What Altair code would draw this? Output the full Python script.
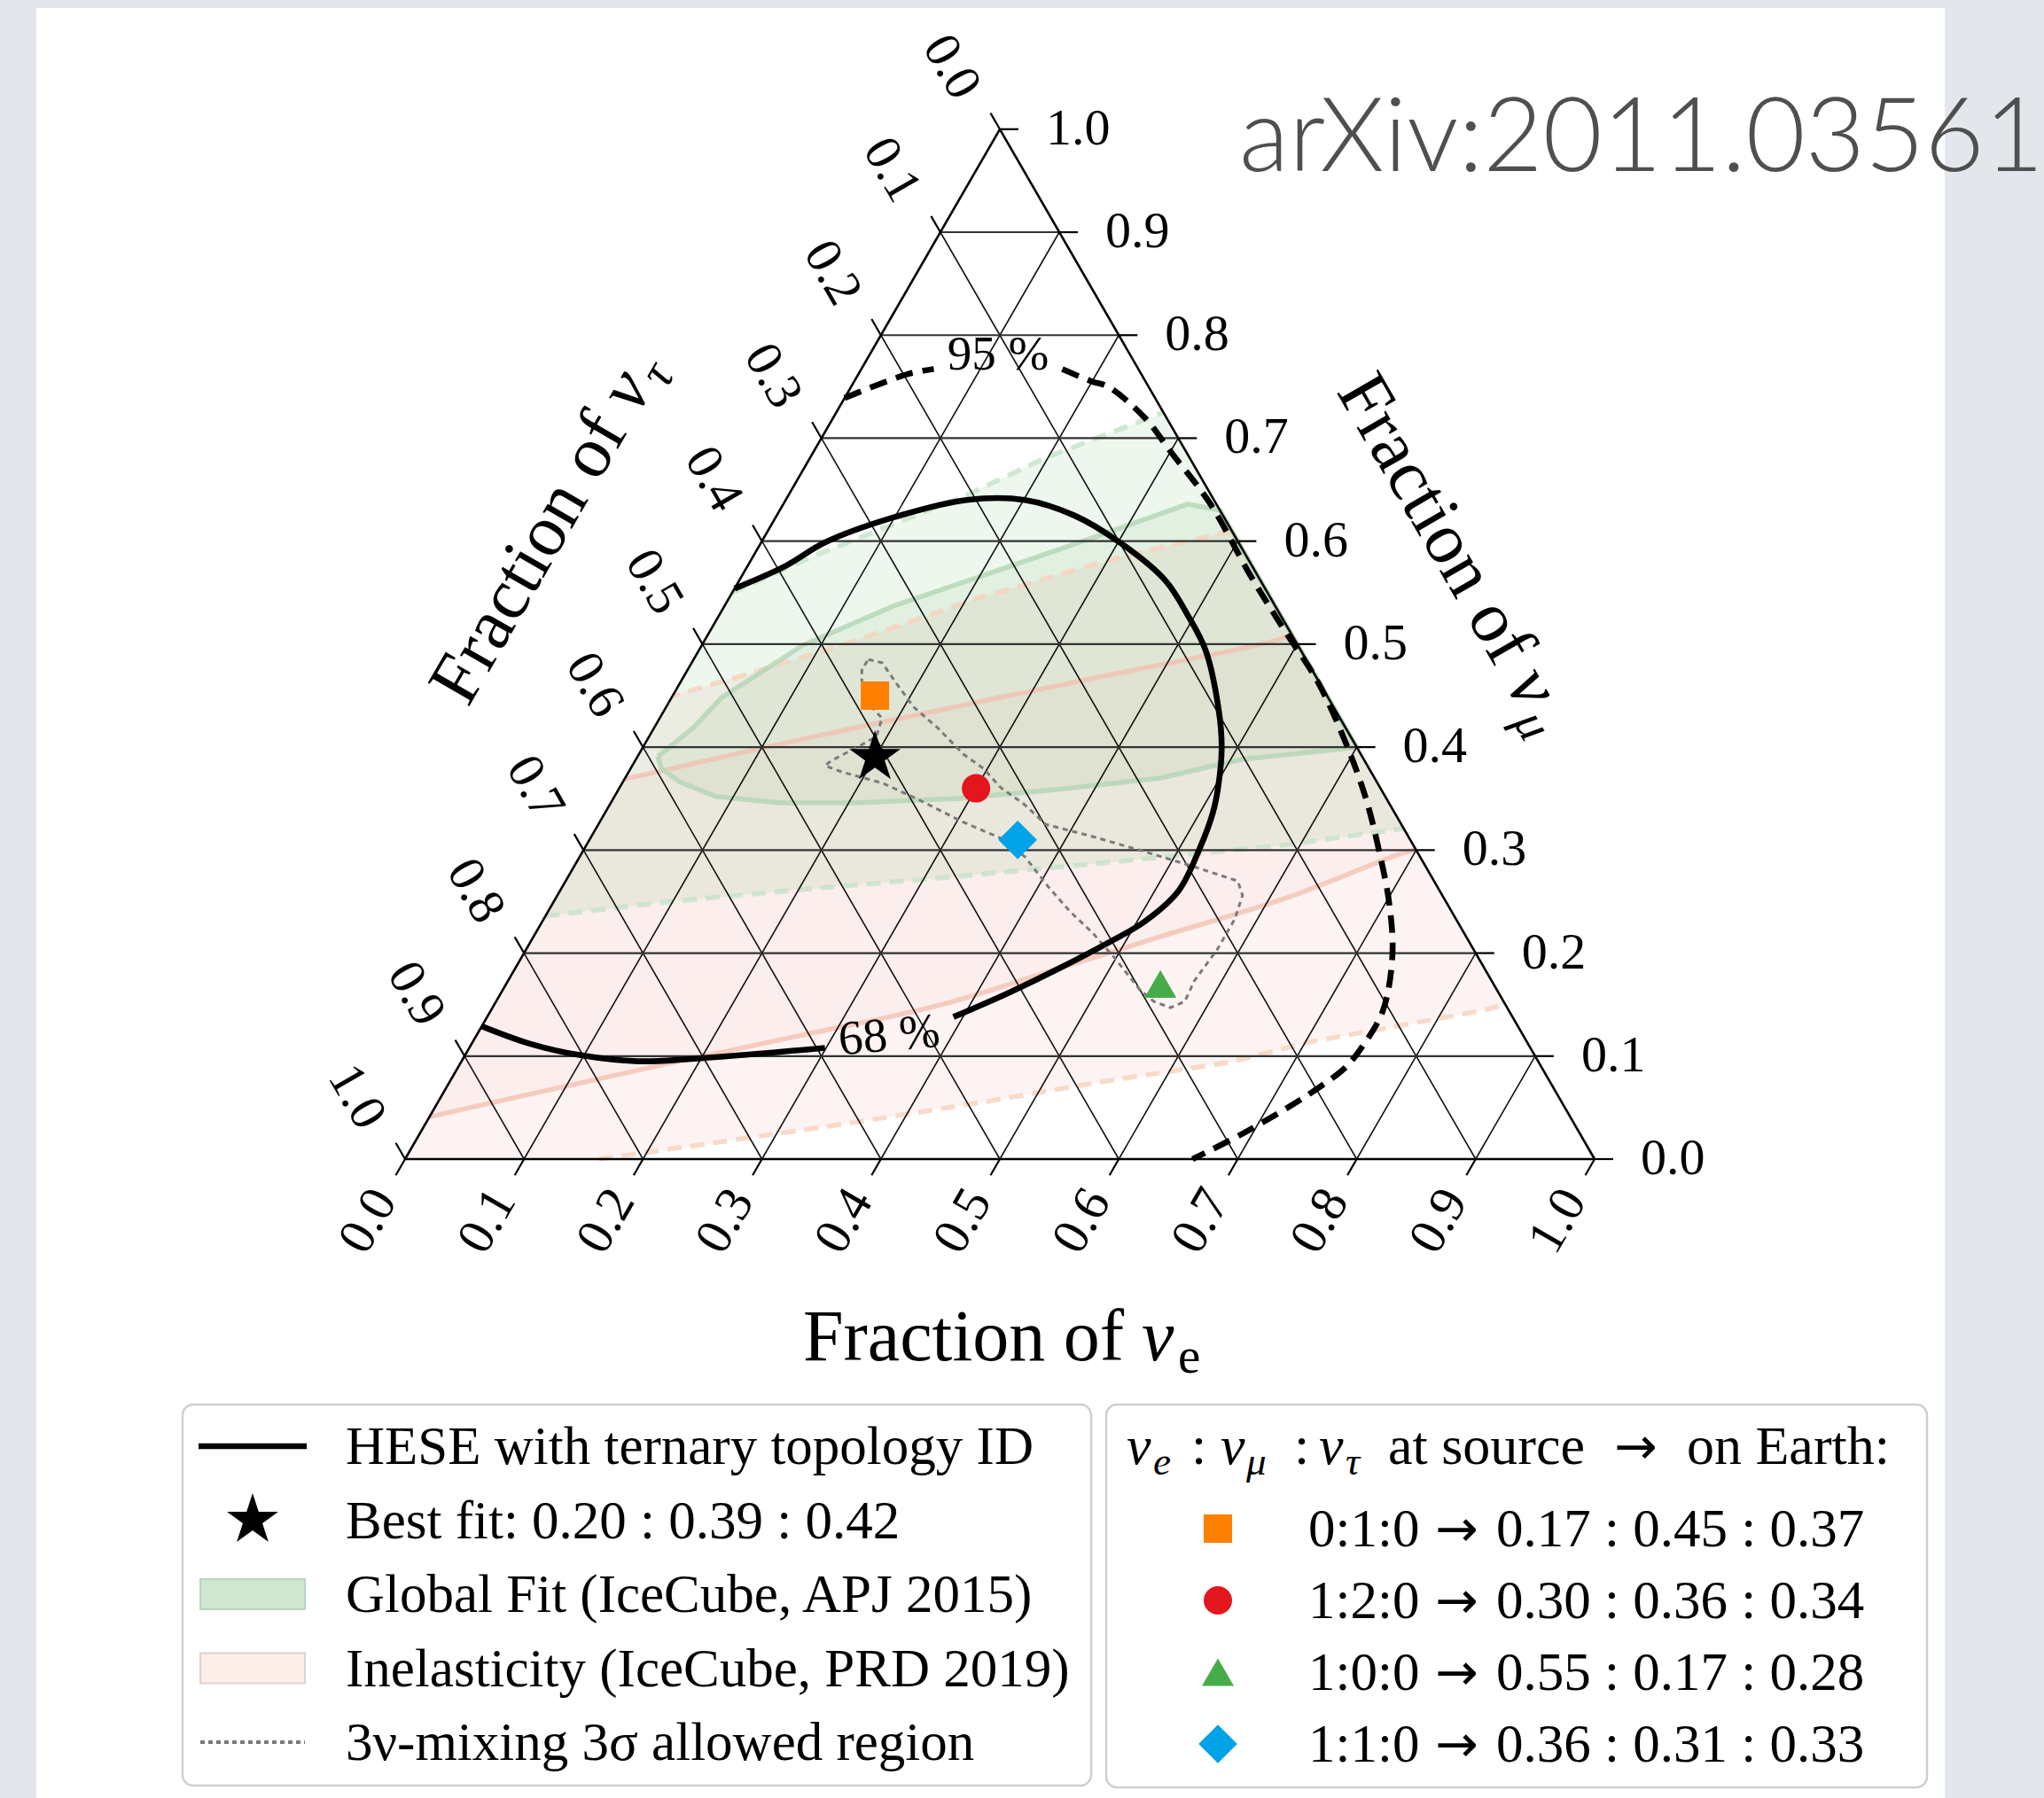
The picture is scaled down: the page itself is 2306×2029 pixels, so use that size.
import altair as alt
import numpy as np
import pandas as pd

# ---------------- values ----------------
# every curve is given as (nu_e fraction, nu_mu fraction); nu_tau = 1 - e - mu
tick_values = [0.0, 0.1, 0.2, 0.3, 0.4, 0.5, 0.6, 0.7, 0.8, 0.9, 1.0]
tick_labels = ["0.0", "0.1", "0.2", "0.3", "0.4", "0.5", "0.6", "0.7", "0.8", "0.9", "1.0"]

best_fit = [0.20, 0.39, 0.42]

src_labels = ["0:1:0", "1:2:0", "1:0:0", "1:1:0"]
earth_e = [0.17, 0.30, 0.55, 0.36]
earth_mu = [0.45, 0.36, 0.17, 0.31]
earth_tau = [0.37, 0.34, 0.28, 0.33]

# HESE 68 % contour (solid black), two pieces around the "68 %" label
hese68_a_e = [0.000, 0.032, 0.054, 0.099, 0.152, 0.201, 0.250, 0.301, 0.358, 0.394, 0.426,
              0.466, 0.487, 0.503, 0.511, 0.517, 0.520, 0.506, 0.487, 0.457, 0.426, 0.392]
hese68_a_mu = [0.554, 0.576, 0.599, 0.623, 0.640, 0.640, 0.625, 0.599, 0.562, 0.528, 0.494,
               0.436, 0.399, 0.361, 0.336, 0.303, 0.260, 0.230, 0.211, 0.185, 0.161, 0.138]
hese68_b_e = [0.299, 0.211, 0.148, 0.096, 0.049, 0.000]
hese68_b_mu = [0.108, 0.099, 0.095, 0.101, 0.112, 0.129]

# HESE 95 % contour (dashed black), two pieces around the "95 %" label
hese95_a_e = [0.000, 0.041, 0.061]
hese95_a_mu = [0.739, 0.762, 0.767]
hese95_b_e = [0.169, 0.200, 0.216, 0.263, 0.300, 0.358, 0.427, 0.483, 0.535, 0.588, 0.632,
              0.668, 0.704, 0.731, 0.750, 0.750, 0.746, 0.730, 0.717, 0.691, 0.662]
hese95_b_mu = [0.767, 0.755, 0.750, 0.719, 0.687, 0.637, 0.567, 0.513, 0.464, 0.405, 0.351,
               0.301, 0.247, 0.198, 0.144, 0.109, 0.089, 0.065, 0.050, 0.024, 0.000]

# Global fit (IceCube, APJ 2015)
gf68_e = [0.017, 0.033, 0.042, 0.085, 0.142, 0.203, 0.264, 0.340, 0.370, 0.600, 0.579,
          0.509, 0.450, 0.370, 0.289, 0.206, 0.142, 0.085, 0.048, 0.026]
gf68_mu = [0.391, 0.419, 0.448, 0.499, 0.537, 0.567, 0.597, 0.636, 0.630, 0.400, 0.397,
           0.388, 0.370, 0.359, 0.350, 0.346, 0.346, 0.352, 0.366, 0.379]
gf95_up_e = [0.000, 0.050, 0.100, 0.150, 0.198, 0.275]
gf95_up_mu = [0.550, 0.585, 0.615, 0.645, 0.681, 0.725]
gf95_lo_e = [0.000, 0.098, 0.206, 0.314, 0.447, 0.588, 0.679]
gf95_lo_mu = [0.236, 0.250, 0.262, 0.273, 0.288, 0.305, 0.321]

# Inelasticity (IceCube, PRD 2019)
in95_lo_e = [0.163, 0.253, 0.357, 0.461, 0.553, 0.646, 0.705, 0.833, 0.850]
in95_lo_mu = [0.000, 0.016, 0.035, 0.056, 0.076, 0.094, 0.114, 0.144, 0.150]
in95_up_e = [0.390, 0.310, 0.210, 0.120, 0.050, 0.000]
in95_up_mu = [0.610, 0.585, 0.545, 0.500, 0.470, 0.450]
in68_lo_e = [0.000, 0.077, 0.176, 0.276, 0.376, 0.457, 0.527, 0.613, 0.690, 0.700]
in68_lo_mu = [0.041, 0.064, 0.093, 0.121, 0.150, 0.185, 0.216, 0.253, 0.297, 0.300]
in68_up_e = [0.490, 0.481, 0.353, 0.264, 0.131, 0.000]
in68_up_mu = [0.510, 0.504, 0.469, 0.445, 0.408, 0.369]

# 3nu-mixing 3 sigma allowed region (dotted grey)
mix_e = [0.147, 0.160, 0.182, 0.208, 0.238, 0.273, 0.297, 0.320, 0.349, 0.376, 0.422, 0.471,
         0.521, 0.565, 0.576, 0.581, 0.581, 0.577, 0.579, 0.570, 0.553, 0.536, 0.498, 0.469,
         0.438, 0.409, 0.375, 0.349, 0.306, 0.255, 0.219, 0.179, 0.162, 0.165, 0.179, 0.191,
         0.187, 0.169, 0.152, 0.146]
mix_mu = [0.485, 0.482, 0.462, 0.439, 0.419, 0.393, 0.379, 0.361, 0.344, 0.325, 0.313, 0.299,
          0.284, 0.270, 0.256, 0.233, 0.204, 0.173, 0.153, 0.147, 0.153, 0.164, 0.196, 0.219,
          0.241, 0.264, 0.293, 0.310, 0.327, 0.350, 0.365, 0.376, 0.382, 0.387, 0.399, 0.410,
          0.428, 0.442, 0.464, 0.476]

label95 = ("95 %", 0.108, 0.781)
label68 = ("68 %", 0.347, 0.120)

legend_left_labels = ["HESE with ternary topology ID",
                      "Best fit: %.2f : %.2f : %.2f" % tuple(best_fit),
                      "Global Fit (IceCube, APJ 2015)",
                      "Inelasticity (IceCube, PRD 2019)",
                      "3\u03bd-mixing 3\u03c3 allowed region"]

# ---------------- styles / layout ----------------
src_colors = ["#ff8000", "#e3151d", "#46ac48", "#00a2e8"]
src_shapes = ["square", "circle", "triangle-up", "diamond"]
src_sizes = [1024, 1024, 1300, 1900]
STAR = ("M0,-1L0.2245,-0.309L0.951,-0.309L0.3633,0.118L0.588,0.809L0,0.382"
        "L-0.588,0.809L-0.3633,0.118L-0.951,-0.309L-0.2245,-0.309Z")
SERIF = "Liberation Serif"
ARROWF = "DejaVu Sans"

S = 1342.0                 # pixels per unit triangle side
OX, OY = 457.0, 1308.0     # pixel position of the bottom-left vertex
CW, CH = 2306, 2029
H3 = np.sqrt(3.0) / 2.0


def cart(e, m):
    e = np.asarray(e, dtype=float)
    m = np.asarray(m, dtype=float)
    return e + m / 2.0, m * H3


def lay(px, py):
    return (px - OX) / S, (OY - py) / S


XS = alt.Scale(domain=[lay(0, 0)[0], lay(CW, 0)[0]], nice=False, zero=False)
YS = alt.Scale(domain=[lay(0, CH)[1], lay(0, 0)[1]], nice=False, zero=False)


def ex(f="X"):
    return alt.X(f"{f}:Q", scale=XS, axis=None)


def ey(f="Y"):
    return alt.Y(f"{f}:Q", scale=YS, axis=None)


def path_df(e, m, close=False):
    x, y = cart(e, m)
    x, y = list(x), list(y)
    if close:
        x.append(x[0])
        y.append(y[0])
    return pd.DataFrame({"X": x, "Y": y, "i": np.arange(len(x))})


def path_layer(df, **mk):
    return alt.Chart(df).mark_line(**mk).encode(x=ex(), y=ey(), order=alt.Order("i:Q"))


def rule_layer(rows, **mk):
    df = pd.DataFrame(rows, columns=["X", "Y", "X2", "Y2"])
    return alt.Chart(df).mark_rule(**mk).encode(
        x=ex(), y=ey(), x2=alt.X2("X2:Q"), y2=alt.Y2("Y2:Q"))


def rect_layer(rows, **mk):
    df = pd.DataFrame(rows, columns=["X", "Y", "X2", "Y2"])
    return alt.Chart(df).mark_rect(**mk).encode(
        x=ex(), y=ey(), x2=alt.X2("X2:Q"), y2=alt.Y2("Y2:Q"))


def text_layer(rows, **mk):
    df = pd.DataFrame(rows, columns=["X", "Y", "t"])
    return alt.Chart(df).mark_text(**mk).encode(x=ex(), y=ey(), text="t:N")


def point_layer(rows):
    df = pd.DataFrame(rows, columns=["X", "Y", "shape", "color", "size"])
    return alt.Chart(df).mark_point(filled=True, opacity=1, strokeWidth=0).encode(
        x=ex(), y=ey(),
        shape=alt.Shape("shape:N", scale=None),
        color=alt.Color("color:N", scale=None),
        size=alt.Size("size:Q", scale=None))


layers = []

# background panel
layers.append(rect_layer([[*lay(41, 9), *lay(2194, CH + 5)]], fill="white"))

# ---------- shaded regions ----------
in95_poly_e = [0.0] + in95_lo_e + in95_up_e + [0.0]
in95_poly_mu = [0.0] + in95_lo_mu + in95_up_mu + [0.0]
layers.append(path_layer(path_df(in95_poly_e, in95_poly_mu, True),
                         fill="#e8645a", fillOpacity=0.075, strokeOpacity=0, strokeWidth=0))
layers.append(path_layer(path_df(in68_lo_e + in68_up_e, in68_lo_mu + in68_up_mu, True),
                         fill="#e8645a", fillOpacity=0.035, strokeOpacity=0, strokeWidth=0))
gf95_poly_e = gf95_up_e + gf95_lo_e[::-1]
gf95_poly_mu = gf95_up_mu + gf95_lo_mu[::-1]
layers.append(path_layer(path_df(gf95_poly_e, gf95_poly_mu, True),
                         fill="#2ca02c", fillOpacity=0.085, strokeOpacity=0, strokeWidth=0))
layers.append(path_layer(path_df(gf68_e, gf68_mu, True),
                         fill="#4f8f3a", fillOpacity=0.065, strokeOpacity=0, strokeWidth=0))

# region boundaries
for e_, m_ in [(in95_lo_e, in95_lo_mu), (in95_up_e, in95_up_mu)]:
    layers.append(path_layer(path_df(e_, m_), stroke="#f6d2bb", strokeWidth=5.5,
                             strokeDash=[16, 10], opacity=0.8))
for e_, m_ in [(in68_lo_e, in68_lo_mu), (in68_up_e, in68_up_mu)]:
    layers.append(path_layer(path_df(e_, m_), stroke="#f2bfae", strokeWidth=5.5,
                             opacity=0.75, interpolate="catmull-rom"))
for e_, m_ in [(gf95_up_e, gf95_up_mu), (gf95_lo_e, gf95_lo_mu)]:
    layers.append(path_layer(path_df(e_, m_), stroke="#c6e2c8", strokeWidth=5.5,
                             strokeDash=[16, 10], opacity=0.8))
layers.append(path_layer(path_df(gf68_e, gf68_mu, True), stroke="#b3d6b4", strokeWidth=5.5,
                         opacity=0.8))

# ---------- grid, edges, ticks ----------
inner = [v for v in tick_values if 0 < v < 1]
h_rows, d_rows = [], []
for v in inner:
    x1, y1 = cart(0.0, v)
    x2, y2 = cart(1.0 - v, v)
    h_rows.append([float(x1), float(y1), float(x2), float(y2)])
    x1, y1 = cart(v, 0.0)
    x2, y2 = cart(v, 1.0 - v)
    d_rows.append([float(x1), float(y1), float(x2), float(y2)])
    x1, y1 = cart(1.0 - v, 0.0)
    x2, y2 = cart(0.0, 1.0 - v)
    d_rows.append([float(x1), float(y1), float(x2), float(y2)])
layers.append(rule_layer(d_rows, color="#111111", strokeWidth=1.6))
layers.append(rule_layer(h_rows, color="#333333", strokeWidth=2.2))

corners = [cart(0, 0), cart(1, 0), cart(0, 1)]
edge_rows = [[float(a[0]), float(a[1]), float(b[0]), float(b[1])]
             for a, b in [(corners[0], corners[1]), (corners[1], corners[2]), (corners[2], corners[0])]]
layers.append(rule_layer(edge_rows, color="black", strokeWidth=2.6))

TL = 21.0 / S
tick_rows = []
lab_b, lab_r, lab_l = [], [], []
for v, t in zip(tick_values, tick_labels):
    bx, by = cart(v, 0.0)
    tick_rows.append([float(bx), float(by), float(bx - 0.5 * TL), float(by - H3 * TL)])
    lab_b.append([float(bx) - 41 / S, float(by) - 70 / S, t])
    rx, ry = cart(1.0 - v, v)
    tick_rows.append([float(rx), float(ry), float(rx + TL), float(ry)])
    lab_r.append([float(rx) + 52 / S, float(ry), t])
    lx, ly = cart(0.0, 1.0 - v)
    tick_rows.append([float(lx), float(ly), float(lx - 0.5 * TL), float(ly + H3 * TL)])
    lab_l.append([float(lx) - 55 / S, float(ly) + 70 / S, t])
layers.append(rule_layer(tick_rows, color="black", strokeWidth=2.2))

layers.append(text_layer(lab_b, font=SERIF, fontSize=58, angle=300, align="center",
                         baseline="middle", color="black"))
layers.append(text_layer(lab_r, font=SERIF, fontSize=58, align="left",
                         baseline="middle", color="black"))
layers.append(text_layer(lab_l, font=SERIF, fontSize=58, angle=60, align="center",
                         baseline="middle", color="black"))

# ---------- 3nu mixing region ----------
layers.append(path_layer(path_df(mix_e, mix_mu, True), stroke="#7a7a7a", strokeWidth=3,
                         strokeDash=[6, 5]))

# ---------- HESE contours ----------
for e_, m_ in [(hese68_a_e, hese68_a_mu), (hese68_b_e, hese68_b_mu)]:
    layers.append(path_layer(path_df(e_, m_), stroke="black", strokeWidth=6.6,
                             interpolate="catmull-rom"))
for e_, m_ in [(hese95_a_e, hese95_a_mu), (hese95_b_e, hese95_b_mu)]:
    layers.append(path_layer(path_df(e_, m_), stroke="black", strokeWidth=6.6,
                             strokeDash=[20, 11], interpolate="catmull-rom"))

for txt, e_, m_, ang in [(*label95, 0), (*label68, 355)]:
    px_, py_ = cart(e_, m_)
    layers.append(text_layer([[float(px_), float(py_), txt]], font=SERIF, fontSize=55,
                             angle=ang, align="center", baseline="middle", color="black"))

# ---------- markers ----------
pts = []
bx, by = cart(best_fit[0], best_fit[1])
pts.append([float(bx), float(by), STAR, "black", 3700])
for i in range(len(src_labels)):
    px_, py_ = cart(earth_e[i], earth_mu[i])
    pts.append([float(px_), float(py_), src_shapes[i], src_colors[i], src_sizes[i]])
layers.append(point_layer(pts[1:] + pts[:1]))


# ---------- axis titles ----------
def title_layers(anchor_px, angle, sub, sub_italic):
    ax, ay = lay(*anchor_px)
    return [
        text_layer([[ax, ay, "Fraction of"]], font=SERIF, fontSize=82, angle=angle,
                   align="right", baseline="alphabetic", color="black"),
        text_layer([[ax, ay, "\u03bd"]], font=SERIF, fontSize=82, angle=angle, fontStyle="italic",
                   align="left", baseline="alphabetic", dx=20, color="black"),
        text_layer([[ax, ay, sub]], font=SERIF, fontSize=57, angle=angle,
                   fontStyle="italic" if sub_italic else "normal",
                   align="left", baseline="alphabetic", dx=61, dy=14, color="black"),
    ]


layers += title_layers((1268, 1535), 0, "e", False)
layers += title_layers((709, 486), 300, "\u03c4", True)
layers += title_layers((1688, 755), 60, "\u03bc", True)

# ---------- arXiv tag ----------
layers.append(text_layer([[*lay(1398, 193), "arXiv:2011.03561"]], font="Lato", fontWeight=300,
                         fontSize=116, align="left", baseline="alphabetic", color="#4f4f4f"))

# ---------- legends ----------
layers.append(rect_layer([[*lay(206, 1585), *lay(1231, 2015)], [*lay(1248, 1585), *lay(2174, 2017)]],
                         fill="white", stroke="#cfcfcf", strokeWidth=2.5, cornerRadius=12))

rows_l = [1632 + 83.5 * k for k in range(5)]
layers.append(rule_layer([[*lay(224, rows_l[0]), *lay(346, rows_l[0])]], color="black", strokeWidth=6.6))
layers.append(rule_layer([[*lay(226, rows_l[4]), *lay(344, rows_l[4])]], color="#7a7a7a",
                         strokeWidth=4, strokeDash=[5, 4]))
layers.append(rect_layer([[*lay(226, rows_l[2] - 17), *lay(344, rows_l[2] + 17)]],
                         fill="#cfe6d1", stroke="#bcd3be", strokeWidth=2))
layers.append(rect_layer([[*lay(226, rows_l[3] - 17), *lay(344, rows_l[3] + 17)]],
                         fill="#fcefea", stroke="#ddd3cf", strokeWidth=2))
leg_pts = [[*lay(285, rows_l[1]), STAR, "black", 3700]]
layers.append(text_layer([[*lay(390, y + 20), t] for y, t in zip(rows_l, legend_left_labels)],
                         font=SERIF, fontSize=61, align="left", baseline="alphabetic", color="black"))

rows_r = [1725 + 81 * k for k in range(4)]
for i in range(len(src_labels)):
    leg_pts.append([*lay(1374, rows_r[i]), src_shapes[i], src_colors[i], src_sizes[i]])
layers.append(point_layer(leg_pts))
layers.append(text_layer([[*lay(1476, y + 20), src_labels[i]] for i, y in enumerate(rows_r)],
                         font=SERIF, fontSize=61, align="left", baseline="alphabetic", color="black"))
layers.append(text_layer([[*lay(1619, y + 20), "\u2192"] for y in rows_r],
                         font=ARROWF, fontSize=58, align="left", baseline="alphabetic", color="black"))
earth_txt = ["%.2f : %.2f : %.2f" % (earth_e[i], earth_mu[i], earth_tau[i]) for i in range(len(src_labels))]
layers.append(text_layer([[*lay(1688, y + 20), earth_txt[i]] for i, y in enumerate(rows_r)],
                         font=SERIF, fontSize=61, align="left", baseline="alphabetic", color="black"))

# legend title with subscripts
tb = 1652
title_main = [(1271, "\u03bd", "italic"), (1344, ":", "normal"), (1377, "\u03bd", "italic"),
              (1460, ":", "normal"), (1488, "\u03bd", "italic"),
              (1566, "at source", "normal"), (1903, "on Earth:", "normal")]
for px_, t, st in title_main:
    layers.append(text_layer([[*lay(px_, tb), t]], font=SERIF, fontSize=62, fontStyle=st,
                             align="left", baseline="alphabetic", color="black"))
layers.append(text_layer([[*lay(1821, tb), "\u2192"]], font=ARROWF, fontSize=58,
                         align="left", baseline="alphabetic", color="black"))
for px_, t in [(1301, "e"), (1406, "\u03bc"), (1518, "\u03c4")]:
    layers.append(text_layer([[*lay(px_, tb + 12), t]], font=SERIF, fontSize=45, fontStyle="italic",
                             align="left", baseline="alphabetic", color="black"))

chart = alt.layer(*layers).properties(
    width=CW, height=CH, padding=0, autosize=alt.AutoSizeParams(type="none")
).configure(background="#e3e7ec").configure_view(strokeWidth=0)

chart.save("out.html", embed_options={"renderer": "svg", "actions": False})
